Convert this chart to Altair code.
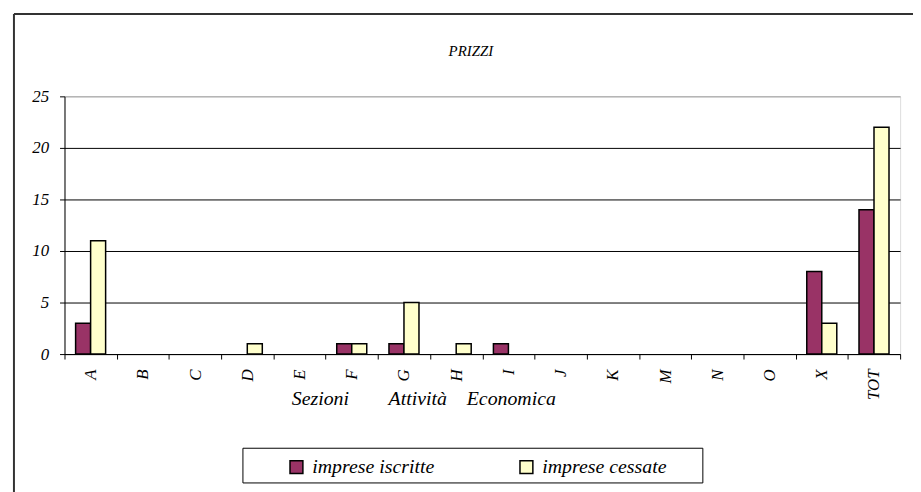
import altair as alt
import pandas as pd

categories = ["A", "B", "C", "D", "E", "F", "G", "H", "I", "J", "K", "M", "N", "O", "X", "TOT"]
iscritte = [3, 0, 0, 0, 0, 1, 1, 0, 1, 0, 0, 0, 0, 0, 8, 14]
cessate = [11, 0, 0, 1, 0, 1, 5, 1, 0, 0, 0, 0, 0, 0, 3, 22]
series_names = ["imprese iscritte", "imprese cessate"]
series_colors = ["#993366", "#FFFFCC"]
y_ticks = [0, 5, 10, 15, 20, 25]
chart_title = "PRIZZI"

rows = []
for c, a, b in zip(categories, iscritte, cessate):
    rows.append({"cat": c, "series": series_names[0], "value": a})
    rows.append({"cat": c, "series": series_names[1], "value": b})
df = pd.DataFrame(rows)

FONT = "Times New Roman, Liberation Serif, DejaVu Serif, serif"
NB = "\u00a0"
x_title = "Sezioni" + NB * 8 + "Attività" + NB * 4 + "Economica"

bars = alt.Chart(df).transform_filter("datum.value > 0").mark_bar(
    stroke="black", strokeWidth=1.5
).encode(
    x=alt.X("cat:N", sort=categories,
            scale=alt.Scale(domain=categories, paddingInner=0, paddingOuter=0),
            axis=alt.Axis(title=x_title, labelAngle=270, tickBand="extent",
                          tickSize=5, tickColor="black", domainColor="black",
                          labelFont=FONT, labelFontStyle="italic", labelFontSize=17,
                          labelColor="black", labelPadding=10,
                          titleFont=FONT, titleFontStyle="italic", titleFontSize=20,
                          titleFontWeight="normal", titleColor="black",
                          titleX=362, titleY=35, titleAlign="center", grid=False)),
    xOffset=alt.XOffset("series:N", sort=series_names,
                        scale=alt.Scale(domain=series_names, paddingInner=0, paddingOuter=0.74)),
    y=alt.Y("value:Q", scale=alt.Scale(domain=[0, 25], nice=False),
            axis=alt.Axis(title=None, values=y_ticks, tickSize=5, tickColor="black",
                          domainColor="black", labelFont=FONT, labelFontStyle="italic",
                          labelFontSize=17, labelColor="black", labelPadding=11,
                          grid=True,
                          gridColor={"condition": {"test": "datum.value === 25", "value": "#999999"},
                                     "value": "black"},
                          gridOpacity=1)),
    color=alt.Color("series:N", sort=series_names,
                    scale=alt.Scale(domain=series_names, range=series_colors),
                    legend=alt.Legend(title=None, orient="none", legendX=224, legendY=364,
                                      direction="horizontal", symbolType="square",
                                      symbolSize=169, symbolStrokeColor="black",
                                      symbolStrokeWidth=1.5, symbolOpacity=1,
                                      labelFont=FONT, labelFontStyle="italic",
                                      labelFontSize=20, labelColor="black",
                                      columnPadding=82, labelOffset=6, padding=0)),
)

one = pd.DataFrame({"title": [chart_title]})
frame_left = alt.Chart(one).mark_rule(color="#333333", strokeWidth=2).encode(
    x=alt.value(-51), y=alt.value(-83), y2=alt.value(420))
frame_top = alt.Chart(one).mark_rule(color="#333333", strokeWidth=2).encode(
    x=alt.value(-51), x2=alt.value(900), y=alt.value(-83))
legend_box = alt.Chart(one).mark_rect(fill="white", stroke="black", strokeWidth=1).encode(
    x=alt.value(180), x2=alt.value(644), y=alt.value(355), y2=alt.value(390))
title_text = alt.Chart(one).mark_text(font=FONT, fontStyle="italic", fontSize=15,
                                      color="black", align="center", baseline="middle").encode(
    text="title:N", x=alt.value(410), y=alt.value(-46))

chart = alt.layer(frame_left, frame_top, legend_box, title_text, bars).properties(
    width=843, height=260,
    autosize=alt.AutoSizeParams(type="none"),
    padding={"left": 57, "top": 87, "right": 13, "bottom": 137},
).configure_view(stroke="#999999", strokeWidth=1).configure(background="white")

chart.save("out.html", embed_options={"renderer": "svg", "actions": False})
